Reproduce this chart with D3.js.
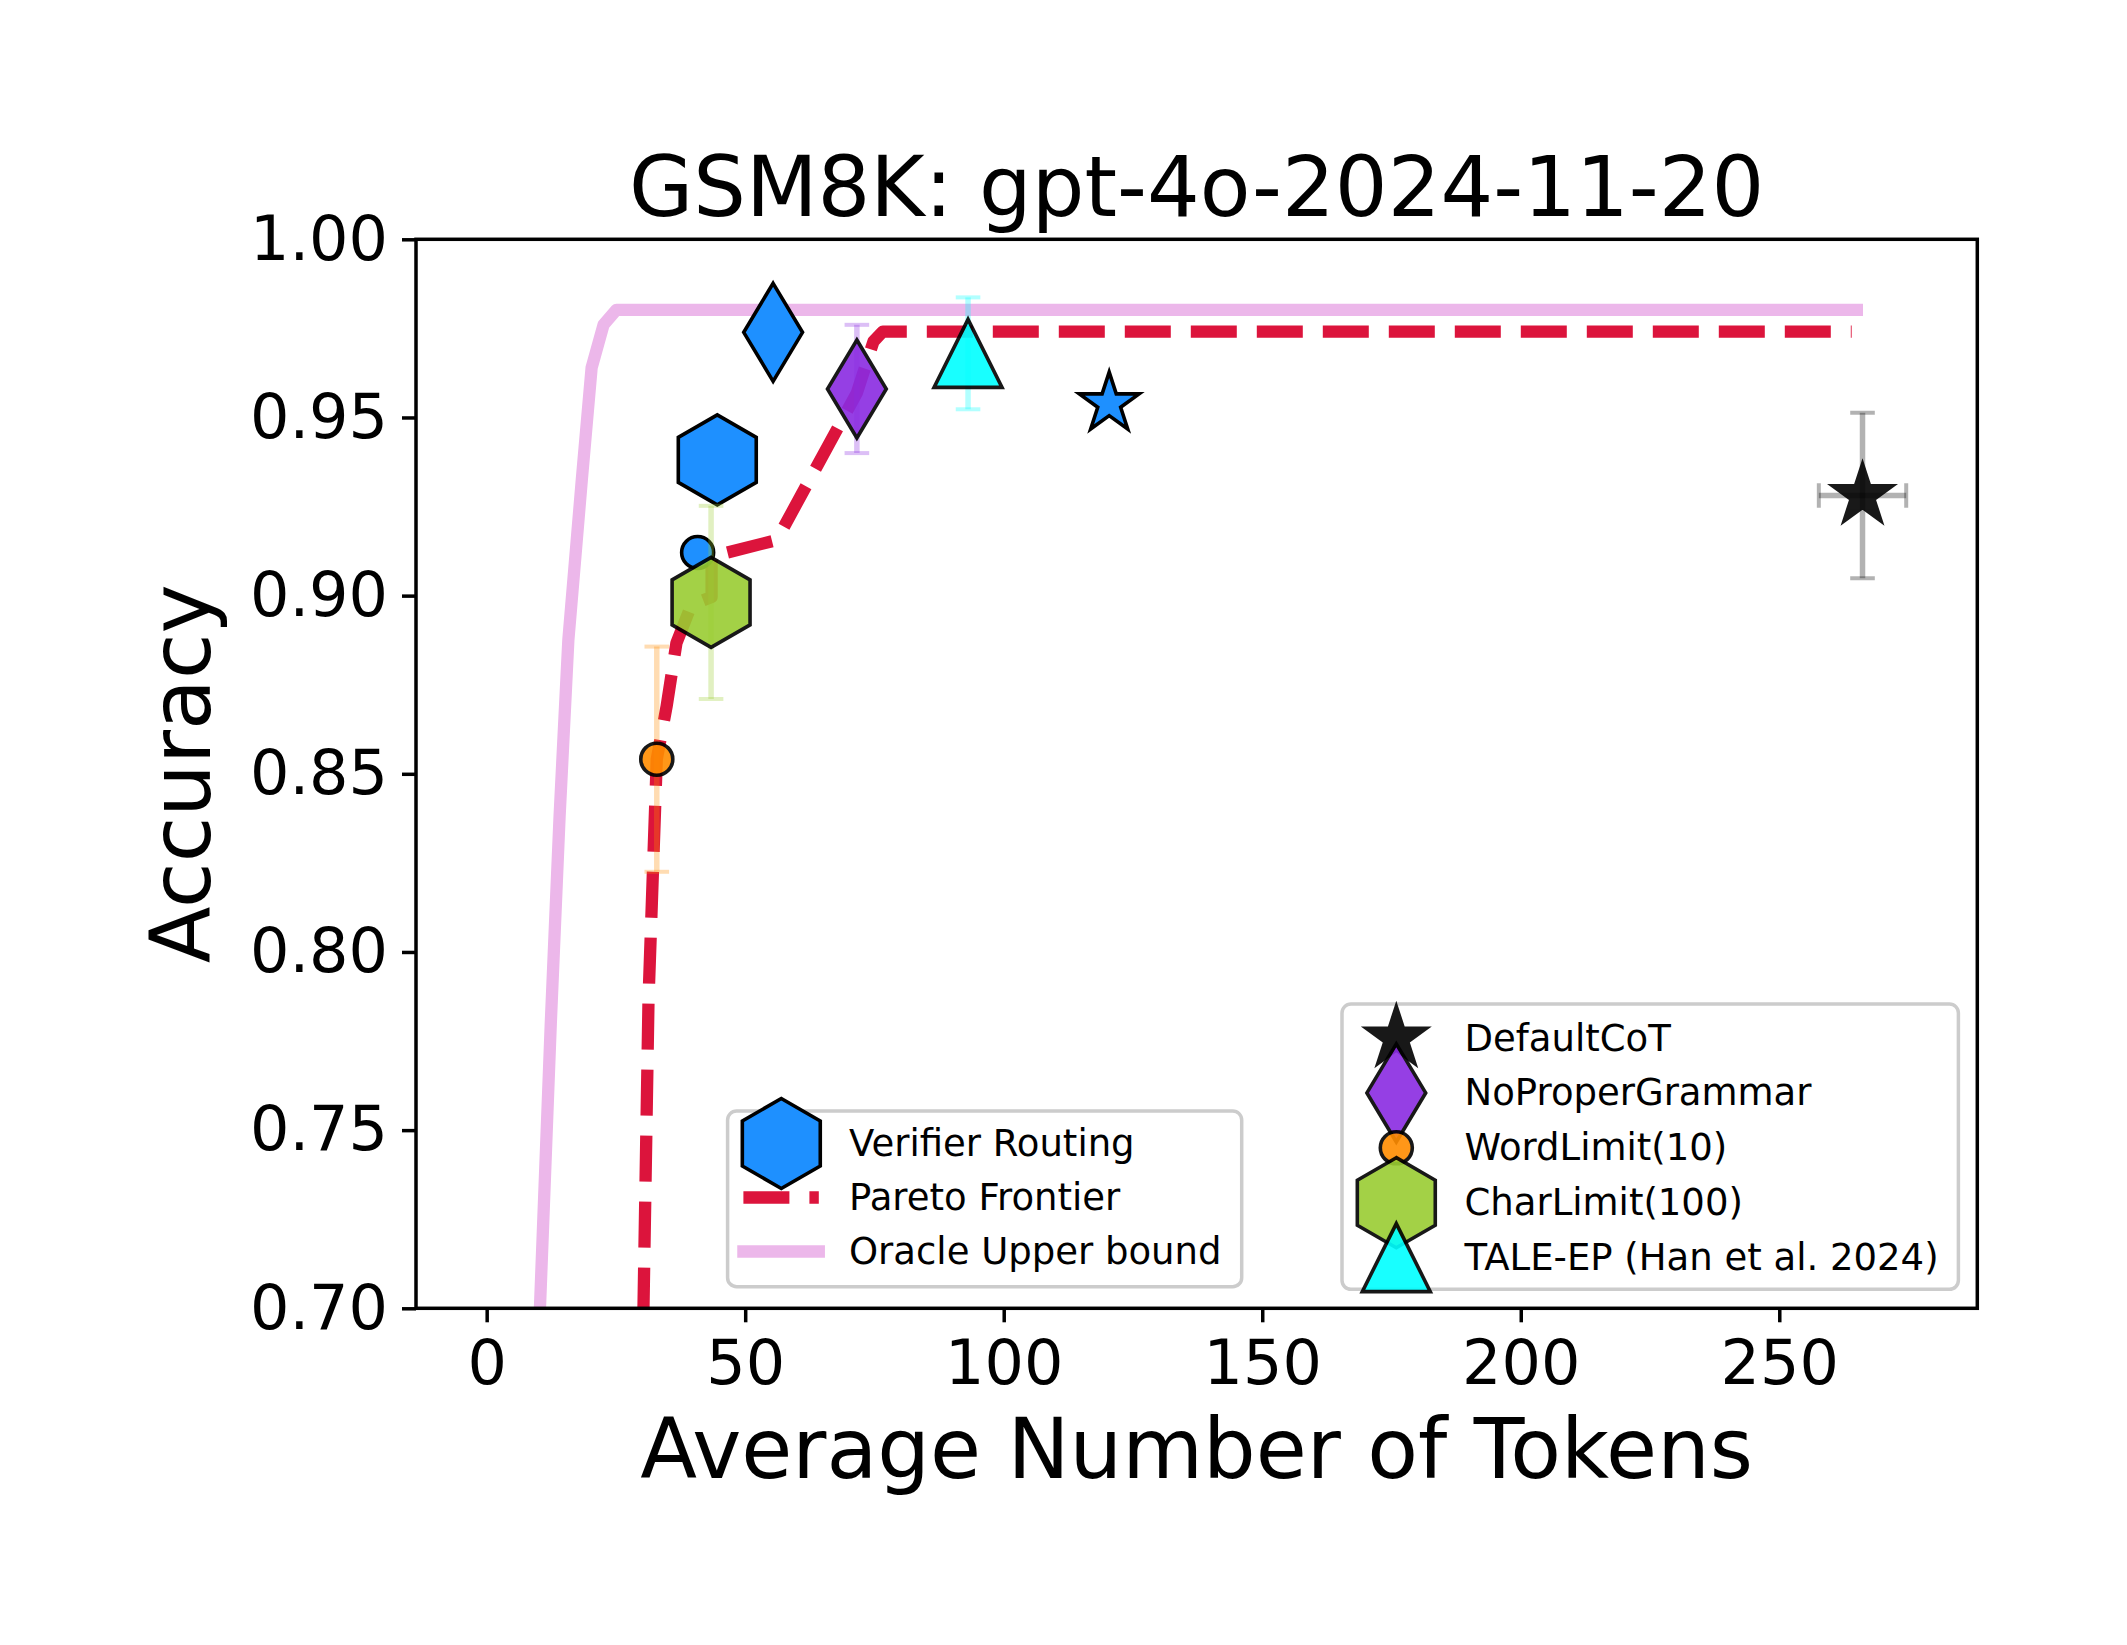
<!DOCTYPE html>
<html lang="en">
<head>
<meta charset="utf-8">
<title>GSM8K: gpt-4o-2024-11-20</title>
<script src="https://d3js.org/d3.v7.min.js"></script>
<style>
  body { margin: 0; background: #fff; }
  svg { display: block; font-family: "DejaVu Sans", sans-serif; }
</style>
</head>
<body>
<script>
// baseline prompting methods (marker + error bars)
var methods = ["DefaultCoT", "NoProperGrammar", "WordLimit(10)", "CharLimit(100)", "TALE-EP (Han et al. 2024)"];
var methodTokens = [266.1, 71.6, 32.9, 43.4, 93.1];
var methodTokensErr = [8.45, 0, 0, 0, 0];
var methodAcc = [0.9281, 0.958, 0.8541, 0.8981, 0.968];
var methodAccErr = [0.0232, 0.018, 0.0316, 0.0271, 0.0157];

// verifier routing points
var routingTokens = [55.4, 44.6, 40.8, 120.4];
var routingAcc = [0.9739, 0.9381, 0.9121, 0.9539];

// pareto frontier
var paretoTokens = [30.1, 31.3, 32.9, 34.8, 36.7, 39.6, 43.5, 43.5, 44.6, 56.1, 71.6, 74.8, 76.6, 264.0];
var paretoAcc = [0.68, 0.7866, 0.8541, 0.8689, 0.8867, 0.8974, 0.8996, 0.911, 0.9114, 0.9156, 0.9569, 0.9713, 0.9741, 0.9741];

// oracle upper bound
var oracleTokens = [9.6, 10.3, 12.4, 14.1, 15.8, 18.4, 20.3, 22.6, 25.1, 265.0];
var oracleAcc = [0.672, 0.70, 0.78, 0.838, 0.8876, 0.9325, 0.964, 0.976, 0.9802, 0.9802];

var xTicks = [0, 50, 100, 150, 200, 250];
var yTicks = [0.70, 0.75, 0.80, 0.85, 0.90, 0.95, 1.00];

// styles
var methodColors = ["#000000", "#8A2BE2", "#FF8C00", "#9ACD32", "#00FFFF"];
var methodShapes = ["star", "thinDiamond", "circle", "hexagon", "triangle"];
var routingShapes = ["thinDiamond", "hexagon", "circle", "star"];
var routingColor = "#1E90FF";
var paretoColor = "#DC143C";
var oracleColor = "#ECB7EA";

var W = 2127, H = 1645;
var L = 416, R = 1977.3, T = 239.3, B = 1308.3;

var svg = d3.select("body").append("svg")
    .attr("width", W)
    .attr("height", H);

var x = d3.scaleLinear().domain([-13.67, 288.3]).range([L, R]);
var y = d3.scaleLinear().domain([0.70, 1.00]).range([B, T]);

// marker shapes, centred on 0,0
function shapePath(shape) {
  var p = d3.path();
  var i, a, r;
  if (shape == "hexagon") {
    for (i = 0; i < 6; i++) {
      a = (90 + 60 * i) * Math.PI / 180;
      if (i == 0) p.moveTo(45 * Math.cos(a), -45 * Math.sin(a));
      else p.lineTo(45 * Math.cos(a), -45 * Math.sin(a));
    }
  } else if (shape == "thinDiamond") {
    p.moveTo(0, -49); p.lineTo(29.4, 0); p.lineTo(0, 49); p.lineTo(-29.4, 0);
  } else if (shape == "star") {
    for (i = 0; i < 10; i++) {
      a = (-90 + 36 * i) * Math.PI / 180;
      r = i % 2 == 0 ? 31.5 : 31.5 * 0.381966;
      if (i == 0) p.moveTo(r * Math.cos(a), r * Math.sin(a));
      else p.lineTo(r * Math.cos(a), r * Math.sin(a));
    }
  } else if (shape == "triangle") {
    p.moveTo(0, -34); p.lineTo(34, 34); p.lineTo(-34, 34);
  } else {
    p.arc(0, 0, 16, 0, 2 * Math.PI);
  }
  p.closePath();
  return p.toString();
}

svg.append("clipPath").attr("id", "plotArea")
  .append("rect").attr("x", L).attr("y", T).attr("width", R - L).attr("height", B - T);

// axes
var xAxis = svg.append("g")
    .attr("transform", "translate(0," + B + ")")
    .call(d3.axisBottom(x).tickValues(xTicks).tickSize(14).tickPadding(18).tickFormat(d3.format("d")));
var yAxis = svg.append("g")
    .attr("transform", "translate(" + L + ",0)")
    .call(d3.axisLeft(y).tickValues(yTicks).tickSize(14).tickPadding(14).tickFormat(d3.format(".2f")));
[xAxis, yAxis].forEach(function(g) {
  g.select(".domain").remove();
  g.selectAll(".tick line").attr("stroke", "#000").attr("stroke-width", 3.5);
  g.selectAll(".tick text").attr("fill", "#000").style("font-size", "62px")
    .style("font-family", "'DejaVu Sans', sans-serif");
});

var plot = svg.append("g").attr("clip-path", "url(#plotArea)");

var line = d3.line().x(function(d) { return x(d[0]); }).y(function(d) { return y(d[1]); });

plot.append("path")
  .attr("d", line(d3.zip(oracleTokens, oracleAcc)))
  .attr("fill", "none")
  .attr("stroke", oracleColor)
  .attr("stroke-width", 12.3)
  .attr("stroke-linejoin", "round")
  .attr("stroke-linecap", "square");

plot.append("path")
  .attr("d", line(d3.zip(paretoTokens, paretoAcc)))
  .attr("fill", "none")
  .attr("stroke", paretoColor)
  .attr("stroke-width", 12.3)
  .attr("stroke-dasharray", "46,20")
  .attr("stroke-linejoin", "round");

// verifier routing markers
plot.selectAll(".routing")
  .data(d3.range(routingTokens.length))
  .enter().append("path")
    .attr("class", "routing")
    .attr("transform", function(i) { return "translate(" + x(routingTokens[i]) + "," + y(routingAcc[i]) + ")"; })
    .attr("d", function(i) { return shapePath(routingShapes[i]); })
    .attr("fill", routingColor)
    .attr("stroke", "#000")
    .attr("stroke-width", 3.6);

// baseline methods with error bars
methods.forEach(function(m, i) {
  var g = plot.append("g");
  var cx = x(methodTokens[i]), cy = y(methodAcc[i]);
  var eb = g.append("g").attr("stroke", methodColors[i]).attr("stroke-opacity", 0.3);
  var y0 = y(methodAcc[i] - methodAccErr[i]), y1 = y(methodAcc[i] + methodAccErr[i]);
  eb.append("line").attr("x1", cx).attr("x2", cx).attr("y1", y0).attr("y2", y1).attr("stroke-width", 5.5);
  [y0, y1].forEach(function(yy) {
    eb.append("line").attr("x1", cx - 12.3).attr("x2", cx + 12.3).attr("y1", yy).attr("y2", yy).attr("stroke-width", 4);
  });
  if (methodTokensErr[i] > 0) {
    var x0 = x(methodTokens[i] - methodTokensErr[i]), x1 = x(methodTokens[i] + methodTokensErr[i]);
    eb.append("line").attr("x1", x0).attr("x2", x1).attr("y1", cy).attr("y2", cy).attr("stroke-width", 5.5);
    [x0, x1].forEach(function(xx) {
      eb.append("line").attr("x1", xx).attr("x2", xx).attr("y1", cy - 12.3).attr("y2", cy + 12.3).attr("stroke-width", 4);
    });
  }
  g.append("path")
    .attr("transform", "translate(" + cx + "," + cy + ")")
    .attr("d", shapePath(methodShapes[i]))
    .attr("fill", methodColors[i])
    .attr("stroke", "#000")
    .attr("stroke-width", 3.6)
    .attr("opacity", 0.9);
});

// frame
svg.append("rect")
  .attr("x", L).attr("y", T).attr("width", R - L).attr("height", B - T)
  .attr("fill", "none").attr("stroke", "#000").attr("stroke-width", 3.5);

// legend 1
var leg1 = svg.append("g");
leg1.append("rect")
  .attr("x", 727.6).attr("y", 1111).attr("width", 514.1).attr("height", 175.7)
  .attr("rx", 9).attr("fill", "#fff").attr("fill-opacity", 0.8)
  .attr("stroke", "#cccccc").attr("stroke-width", 3.5);
var leg1Labels = ["Verifier Routing", "Pareto Frontier", "Oracle Upper bound"];
leg1Labels.forEach(function(t, i) {
  var cy = 1143.5 + i * 54;
  if (i == 0) {
    leg1.append("path").attr("transform", "translate(781.3," + cy + ")")
      .attr("d", shapePath("hexagon")).attr("fill", routingColor)
      .attr("stroke", "#000").attr("stroke-width", 3.6);
  } else {
    leg1.append("line").attr("x1", 743.4).attr("x2", 818.8).attr("y1", cy).attr("y2", cy)
      .attr("stroke", i == 1 ? paretoColor : oracleColor)
      .attr("stroke-width", 12.3)
      .attr("stroke-dasharray", i == 1 ? "46,20" : null)
      .attr("stroke-linecap", i == 1 ? "butt" : "square");
  }
  leg1.append("text").attr("x", 849).attr("y", cy + 12.5)
    .style("font-size", "37px").text(t);
});

// legend 2
var leg2 = svg.append("g");
leg2.append("rect")
  .attr("x", 1342).attr("y", 1004).attr("width", 616.4).attr("height", 285.3)
  .attr("rx", 9).attr("fill", "#fff").attr("fill-opacity", 0.8)
  .attr("stroke", "#cccccc").attr("stroke-width", 3.5);
methods.forEach(function(m, i) {
  var cy = 1038 + i * 54.9;
  leg2.append("path").attr("transform", "translate(1396.3," + cy + ")")
    .attr("d", shapePath(methodShapes[i])).attr("fill", methodColors[i])
    .attr("stroke", "#000").attr("stroke-width", 3.6).attr("opacity", 0.9);
  leg2.append("text").attr("x", 1464.5).attr("y", cy + 12.5)
    .style("font-size", "37px").text(m);
});

// titles
svg.append("text")
  .attr("x", (L + R) / 2).attr("y", 216)
  .attr("text-anchor", "middle")
  .style("font-size", "83px")
  .text("GSM8K: gpt-4o-2024-11-20");

svg.append("text")
  .attr("x", (L + R) / 2).attr("y", 1478)
  .attr("text-anchor", "middle")
  .style("font-size", "83px")
  .text("Average Number of Tokens");

svg.append("text")
  .attr("transform", "translate(210," + (T + B) / 2 + ") rotate(-90)")
  .attr("text-anchor", "middle")
  .style("font-size", "83px")
  .text("Accuracy");
</script>
</body>
</html>
